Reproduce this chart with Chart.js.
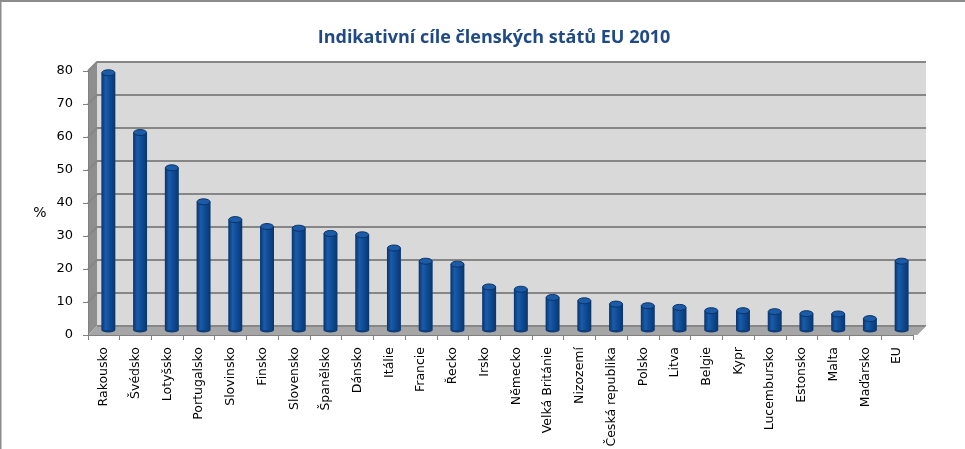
<!DOCTYPE html>
<html lang="cs">
<head>
    <meta charset="UTF-8">
    <title>Indikativní cíle členských států EU 2010</title>
    <script src="https://cdn.jsdelivr.net/npm/chart.js@4.4.1/dist/chart.umd.min.js"></script>
    <style>
        html, body { margin: 0; padding: 0; background: #fff; }
        #wrap { width: 965px; height: 449px; position: relative; }
    </style>
</head>
<body>
<div id="wrap"><canvas id="chart" width="965" height="449"></canvas></div>
<script>
    // data
    const countries = ['Rakousko', 'Švédsko', 'Lotyšsko', 'Portugalsko', 'Slovinsko', 'Finsko', 'Slovensko',
        'Španělsko', 'Dánsko', 'Itálie', 'Francie', 'Řecko', 'Irsko', 'Německo', 'Velká Británie', 'Nizozemí',
        'Česká republika', 'Polsko', 'Litva', 'Belgie', 'Kypr', 'Lucembursko', 'Estonsko', 'Malta', 'Maďarsko', 'EU'];
    const targets = [78.1, 60, 49.3, 39, 33.6, 31.5, 31, 29.4, 29, 25, 21, 20.1, 13.2, 12.5, 10, 9,
        8, 7.5, 7, 6, 6, 5.7, 5.1, 5, 3.6, 21];
    const yTicks = [0, 10, 20, 30, 40, 50, 60, 70, 80];
    const titleText = 'Indikativní cíle členských států EU 2010';

    const DEPTH = 9;       // posun zadní stěny
    const HALF = 4.5;      // sloupce stojí uprostřed hloubky
    const BAR_PCT = 0.44;

    function cylinderFill(context) {
        const chart = context.chart;
        const area = chart.chartArea;
        if (!area || context.dataIndex === undefined) return '#144c8e';
        const xs = chart.scales.x;
        const x = xs.getPixelForValue(context.dataIndex);
        const w = (area.right - area.left) / countries.length * BAR_PCT;
        const g = chart.ctx.createLinearGradient(x - w / 2, 0, x + w / 2, 0);
        g.addColorStop(0, '#08336a');
        g.addColorStop(0.3, '#1a5cab');
        g.addColorStop(0.55, '#104e99');
        g.addColorStop(1, '#09366c');
        return g;
    }

    // 3D stěny, mřížka na zadní stěně, rámeček
    const walls = {
        id: 'walls',
        beforeDraw(chart) {
            const ctx = chart.ctx;
            const a = chart.chartArea;
            const y = chart.scales.y;
            const top = y.getPixelForValue(80), bot = y.getPixelForValue(0);
            ctx.save();
            // rámeček grafu
            ctx.strokeStyle = '#8c8c8c';
            ctx.lineWidth = 2;
            ctx.beginPath();
            ctx.moveTo(0.5, 449); ctx.lineTo(0.5, 1); ctx.lineTo(965, 1);
            ctx.stroke();
            // zadní stěna
            ctx.fillStyle = '#d9d9d9';
            ctx.fillRect(a.left + DEPTH, top - DEPTH, a.right - a.left + 4, bot - top);
            // boční stěna
            ctx.fillStyle = '#8e8e8e';
            ctx.beginPath();
            ctx.moveTo(a.left, top); ctx.lineTo(a.left + DEPTH, top - DEPTH);
            ctx.lineTo(a.left + DEPTH, bot - DEPTH); ctx.lineTo(a.left, bot);
            ctx.closePath(); ctx.fill();
            // podlaha
            ctx.fillStyle = '#a6a6a6';
            ctx.beginPath();
            ctx.moveTo(a.left, bot); ctx.lineTo(a.left + DEPTH, bot - DEPTH);
            ctx.lineTo(a.right + 4 + DEPTH, bot - DEPTH); ctx.lineTo(a.right + 4, bot);
            ctx.closePath(); ctx.fill();
            // mřížka
            ctx.strokeStyle = '#868686';
            ctx.lineWidth = 2;
            yTicks.forEach(v => {
                const py = y.getPixelForValue(v) - DEPTH;
                ctx.beginPath();
                if (v === 0) {
                    ctx.moveTo(a.left + DEPTH, py); ctx.lineTo(a.right + 4 + DEPTH, py);
                } else {
                    ctx.moveTo(a.left, py + DEPTH); ctx.lineTo(a.left + DEPTH, py);
                    ctx.lineTo(a.right + 4 + DEPTH, py);
                }
                ctx.stroke();
            });
            ctx.lineWidth = 1;
            ctx.strokeStyle = '#b5b5b5';
            ctx.beginPath();
            ctx.moveTo(a.right + 4, bot); ctx.lineTo(a.right + 4 + DEPTH, bot - DEPTH);
            ctx.stroke();
            ctx.restore();
        },
        beforeDatasetsDraw(chart) {
            chart.ctx.save();
            chart.ctx.translate(HALF, -HALF);
        },
        afterDatasetsDraw(chart) {
            const ctx = chart.ctx;
            chart.getDatasetMeta(0).data.forEach(bar => {
                const rx = bar.width / 2;
                // spodní elipsa
                ctx.fillStyle = '#0c3f7c';
                ctx.beginPath();
                ctx.ellipse(bar.x, bar.base, rx, 2.5, 0, 0, Math.PI);
                ctx.fill();
                // horní elipsa
                ctx.fillStyle = '#1c5ba8';
                ctx.strokeStyle = '#0a3467';
                ctx.lineWidth = 1;
                ctx.beginPath();
                ctx.ellipse(bar.x, bar.y, rx - 0.5, 3, 0, 0, Math.PI * 2);
                ctx.fill();
                ctx.stroke();
            });
            ctx.restore();
        },
        afterDraw(chart) {
            const ctx = chart.ctx;
            ctx.save();
            ctx.textAlign = 'center';
            ctx.textBaseline = 'middle';
            // nadpis
            ctx.fillStyle = '#1f4a86';
            ctx.font = 'bold 18px "Open Sans"';
            ctx.fillText(titleText, 494, 38);
            // popisek osy Y
            ctx.fillStyle = '#000';
            ctx.font = '14px "DejaVu Sans"';
            ctx.fillText('%', 40, 213);
            ctx.restore();
        }
    };

    new Chart(document.getElementById('chart'), {
        type: 'bar',
        data: {
            labels: countries,
            datasets: [{
                data: targets,
                backgroundColor: cylinderFill,
                borderWidth: 0,
                barPercentage: BAR_PCT,
                categoryPercentage: 1
            }]
        },
        options: {
            responsive: false,
            animation: false,
            layout: { padding: { left: 0, right: 52, top: 71, bottom: 0 } },
            plugins: {
                legend: { display: false },
                tooltip: { enabled: false },
                title: { display: false }
            },
            scales: {
                x: {
                    offset: true,
                    grid: { display: true, drawOnChartArea: false, drawTicks: true, tickLength: 5, offset: true, color: '#808080' },
                    border: { display: true, color: '#808080', width: 1 },
                    ticks: {
                        color: '#000',
                        font: { family: '"DejaVu Sans"', size: 12.5 },
                        minRotation: 90, maxRotation: 90,
                        autoSkip: false, padding: 7
                    },
                    afterFit(scale) { scale.height = 114; }
                },
                y: {
                    min: 0, max: 80,
                    afterBuildTicks(scale) { scale.ticks = yTicks.map(v => ({ value: v })); },
                    grid: { display: true, drawOnChartArea: false, drawTicks: true, tickLength: 5, color: '#808080' },
                    border: { display: true, color: '#808080', width: 1 },
                    ticks: {
                        color: '#000',
                        font: { family: '"DejaVu Sans"', size: 13 },
                        padding: 10
                    },
                    afterFit(scale) { scale.width = 88; }
                }
            }
        },
        plugins: [walls]
    });
</script>
</body>
</html>
